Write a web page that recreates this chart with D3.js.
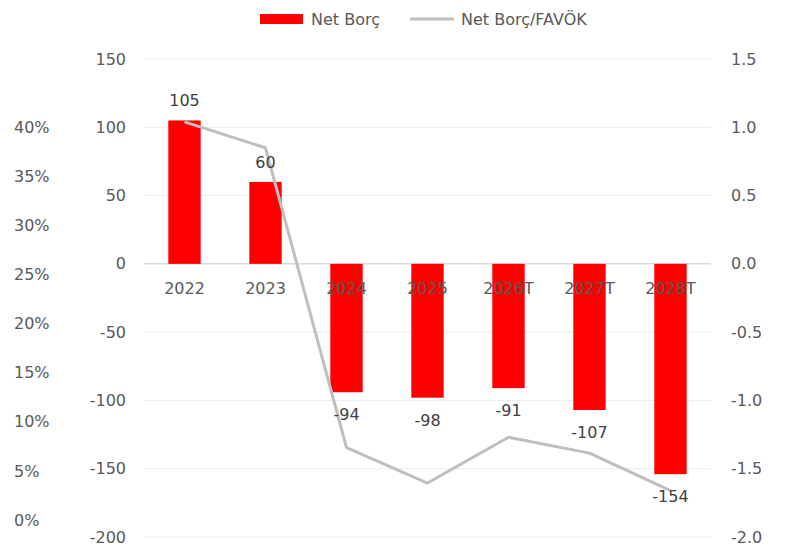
<!DOCTYPE html>
<html><head><meta charset="utf-8">
<script src="https://cdn.jsdelivr.net/npm/d3@7"></script>
<style>body{margin:0;background:#fff}svg{display:block}text{font-family:"DejaVu Sans",Verdana,sans-serif}</style>
</head><body><svg id="c" width="798" height="556"></svg>
<script>
const categories = ["2022","2023","2024","2025","2026T","2027T","2028T"];
const netBorc = [105, 60, -94, -98, -91, -107, -154];
const ratio = [1.04, 0.85, -1.345, -1.605, -1.27, -1.386, -1.66];
const leftTicks = [150, 100, 50, 0, -50, -100, -150, -200];
const rightTicks = [1.5, 1.0, 0.5, 0.0, -0.5, -1.0, -1.5, -2.0];
const pctTicks = [0, 0.05, 0.10, 0.15, 0.20, 0.25, 0.30, 0.35, 0.40];
const seriesNames = ["Net Borç", "Net Borç/FAVÖK"];

const svg = d3.select("#c");
const fs = 16;
const x = d3.scaleBand().domain(categories).range([144, 711]).paddingInner(0.6).paddingOuter(0.3);
const y = d3.scaleLinear().domain([-200, 150]).range([537, 59]);
const y2 = d3.scaleLinear().domain([-2, 1.5]).range([537, 59]);
const yp = d3.scaleLinear().domain([0, 0.4]).range([520, 127]);
const hy = s => s.replace("\u2212", "-");

// gridlines
svg.append("g").selectAll("line").data(leftTicks).join("line")
  .attr("x1", 144).attr("x2", 711).attr("y1", d => y(d)).attr("y2", d => y(d))
  .attr("stroke", d => d === 0 ? "#d9d9d9" : "#ececec").attr("stroke-width", d => d === 0 ? 1.5 : 1);

// left axis
const gl = svg.append("g").attr("transform", "translate(126,0)")
  .call(d3.axisLeft(y).tickValues(leftTicks).tickSize(0).tickPadding(0).tickFormat(d => hy(d3.format("d")(d))));
gl.select(".domain").remove();
gl.selectAll("text").attr("fill", "#595959").style("font-size", fs + "px").style("font-family", "DejaVu Sans");

// right axis
const gr = svg.append("g").attr("transform", "translate(731,0)")
  .call(d3.axisRight(y2).tickValues(rightTicks).tickSize(0).tickPadding(0).tickFormat(d => hy(d3.format(".1f")(d))));
gr.select(".domain").remove();
gr.selectAll("text").attr("fill", "#595959").style("font-size", fs + "px").style("font-family", "DejaVu Sans");

// percent axis
const gp = svg.append("g").attr("transform", "translate(14,0)")
  .call(d3.axisRight(yp).tickValues(pctTicks).tickSize(0).tickPadding(0).tickFormat(d3.format(".0%")));
gp.select(".domain").remove();
gp.selectAll("text").attr("fill", "#595959").style("font-size", fs + "px").style("font-family", "DejaVu Sans");

// bars
svg.append("g").selectAll("rect").data(netBorc).join("rect")
  .attr("x", (d, i) => x(categories[i])).attr("width", x.bandwidth())
  .attr("y", d => y(Math.max(0, d))).attr("height", d => Math.abs(y(d) - y(0)))
  .attr("fill", "#ff0000");

// category labels
svg.append("g").selectAll("text").data(categories).join("text")
  .attr("x", d => x(d) + x.bandwidth() / 2).attr("y", 294)
  .attr("text-anchor", "middle").attr("fill", "#595959").style("font-size", fs + "px")
  .text(d => d);

// line
const line = d3.line().x((d, i) => x(categories[i]) + x.bandwidth() / 2).y(d => y2(d));
svg.append("path").datum(ratio).attr("d", line).attr("fill", "none")
  .attr("stroke", "#bfbfbf").attr("stroke-width", 3).attr("stroke-linejoin", "round");

// data labels
svg.append("g").selectAll("text").data(netBorc).join("text")
  .attr("x", (d, i) => x(categories[i]) + x.bandwidth() / 2)
  .attr("y", d => d >= 0 ? y(d) - 14 : y(d) + 28)
  .attr("text-anchor", "middle").attr("fill", "#404040").style("font-size", fs + "px")
  .text(d => String(d));

// legend
const lg = svg.append("g");
lg.append("rect").attr("x", 260).attr("y", 14).attr("width", 43).attr("height", 10).attr("fill", "#ff0000");
lg.append("text").attr("x", 311).attr("y", 25).attr("fill", "#595959").style("font-size", fs + "px").text(seriesNames[0]);
lg.append("line").attr("x1", 410).attr("x2", 454).attr("y1", 19).attr("y2", 19).attr("stroke", "#bfbfbf").attr("stroke-width", 3);
lg.append("text").attr("x", 461).attr("y", 25).attr("fill", "#595959").style("font-size", fs + "px").text(seriesNames[1]);
</script></body></html>
